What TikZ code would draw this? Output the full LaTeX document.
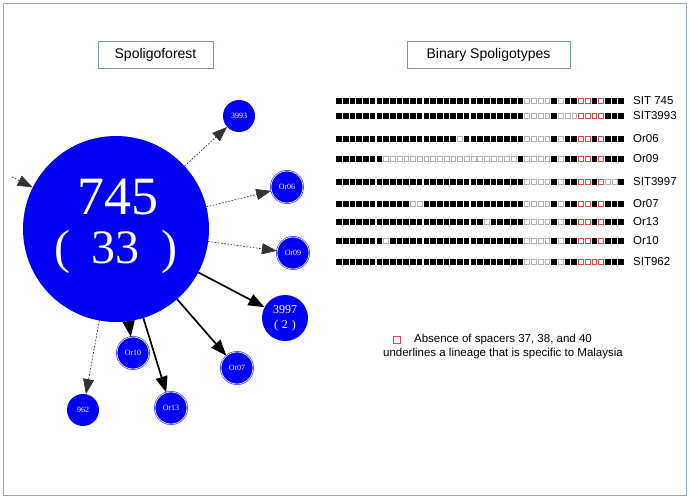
\documentclass[tikz,border=0pt]{standalone}
\usepackage{fontspec}
\setmainfont{Liberation Serif}
\newfontfamily\arialf{Liberation Sans}
\usetikzlibrary{arrows.meta}
\definecolor{frame}{RGB}{150,170,200}
\definecolor{boxline}{RGB}{120,150,185}
\definecolor{nodeblue}{RGB}{0,0,245}
\definecolor{absred}{RGB}{225,70,70}
\tikzset{
  bignode/.style={circle, fill=nodeblue, inner sep=0pt, minimum size=186pt},
  bigtext/.style={text=white, inner sep=0pt},
  plainnode/.style={circle, fill=nodeblue, inner sep=0pt, minimum size=32pt, text=white, font=\fontsize{8}{9}\selectfont},
  ornode/.style={circle, fill=nodeblue, draw=nodeblue, double=white, double distance=0.7pt, line width=0.5pt, inner sep=0pt, minimum size=32pt, text=white, font=\fontsize{8}{9}\selectfont},
  dashedge/.style={draw=black!80, line width=0.7pt, dash pattern=on 1.6pt off 1.6pt, -{Triangle[length=15pt,width=11pt]}},
  solidedge/.style={draw=black, line width=1.7pt, -{Triangle[length=16pt,width=12pt]}},
  titlebox/.style={draw=boxline, line width=0.7pt, minimum height=27pt, inner sep=0pt, font=\arialf\fontsize{14}{16}\selectfont},
  sptext/.style={anchor=west, inner sep=0pt, font=\arialf\fontsize{11.5}{13}\selectfont},
  legendtext/.style={align=center, inner sep=0pt, font=\arialf\fontsize{11.5}{14.5}\selectfont}
}
% spoligotype square row drawing
\def\spx{339}
\def\spy{100}
\newcommand\spdraw[1]{%
  \if#11\fill[black] (\spx-2.8,\spy-2.8) rectangle ++(5.6,5.6);\fi
  \if#10\draw[gray!60,line width=0.6pt] (\spx-2.4,\spy-2.4) rectangle ++(4.8,4.8);\fi
  \if#1r\draw[absred,line width=0.6pt] (\spx-2.4,\spy-2.4) rectangle ++(4.8,4.8);\fi}
\def\sploop#1{\ifx#1.\else\spdraw{#1}\pgfmathsetmacro\spx{\spx+6.72}\expandafter\sploop\fi}
\newcommand\sprow[2]{\def\spy{#1}\def\spx{339}\sploop#2.}
\begin{document}
\begin{tikzpicture}[x=1pt,y=-1pt]
\useasboundingbox (0,0) rectangle (689,498);
\draw[frame, line width=1pt] (3,3) rectangle (686,495);

% titles
\node[titlebox, minimum width=115pt] (title1) at (155.5,54.5) {Spoligoforest};
\node[titlebox, minimum width=163pt] (title2) at (488.5,54.5) {Binary Spoligotypes};

% spoligoforest
\node[bignode] (n745) at (116,229) {};
\node[bigtext, font=\fontsize{54}{60}\selectfont] (t745) at (118,197) {745};
\node[bigtext, font=\fontsize{48}{54}\selectfont] (t33) at (116,252) {(\hspace{22pt}33\hspace{22pt})};
\node[plainnode] (n3993) at (239,116) {3993};
\node[ornode] (nOr06) at (287,187) {Or06};
\node[ornode] (nOr09) at (293,253) {Or09};
\node[plainnode, minimum size=46pt, align=center, font=\fontsize{12}{15}\selectfont] (n3997) at (285,318) {3997\\(\hspace{4pt}2\hspace{4pt})};
\node[ornode] (nOr07) at (237,368) {Or07};
\node[ornode] (nOr10) at (133,353) {Or10};
\node[ornode] (nOr13) at (171,408) {Or13};
\node[plainnode] (n962) at (83,410) {962};
\coordinate (src) at (12,177);

\draw[dashedge] (src) -- (n745);
\draw[dashedge] (n745) -- (n3993);
\draw[dashedge] (n745) -- (nOr06);
\draw[dashedge] (n745) -- (nOr09);
\draw[dashedge] (n745) -- (n962);
\draw[solidedge] (n745) -- (n3997);
\draw[solidedge] (n745) -- (nOr07);
\draw[solidedge] (n745) -- (nOr10);
\draw[solidedge] (n745) -- (nOr13);

% binary spoligotypes
\sprow{101}{1111111111 1111111111 11111111 0000 1 0 11 rr 1 r 111}
\sprow{116}{1111111111 1111111111 11111111 0000 1 000 rrrr 111}
\sprow{139}{1111111111 11111111 0 111111111 0000 1 0 11 rr 1 r 111}
\sprow{159}{1111111 0000000000 0000000000 1 0000 1 0 11 rr 1 r 111}
\sprow{182}{1111111111 1111111111 11111111 0000 1 0 11 rr 1 r 001}
\sprow{204}{1111111111 1 00 1111111111 11111 0000 1 0 11 rr 1 r 111}
\sprow{222}{1111111111 1111111111 11 0 11111 0000 1 0 11 rr 1 r 111}
\sprow{241}{1111111 0 1111111111 1111111111 0000 1 0 11 rr 1 r 111}
\sprow{262}{1111111111 1111111111 11111111 0000 1 0 11 rrrr 111}
\node[sptext] (l1) at (633,101) {SIT 745};
\node[sptext] (l2) at (633,116) {SIT3993};
\node[sptext] (l3) at (633,139) {Or06};
\node[sptext] (l4) at (633,159) {Or09};
\node[sptext] (l5) at (633,182) {SIT3997};
\node[sptext] (l6) at (633,204) {Or07};
\node[sptext] (l7) at (633,222) {Or13};
\node[sptext] (l8) at (633,241) {Or10};
\node[sptext] (l9) at (633,262) {SIT962};

% legend
\node[draw=absred, line width=0.7pt, minimum size=7.5pt, inner sep=0pt] (legsq) at (397,340) {};
\node[legendtext] (legtext) at (503,346.5) {Absence of spacers 37, 38, and 40\\underlines a lineage that is specific to Malaysia};
\end{tikzpicture}
\end{document}
